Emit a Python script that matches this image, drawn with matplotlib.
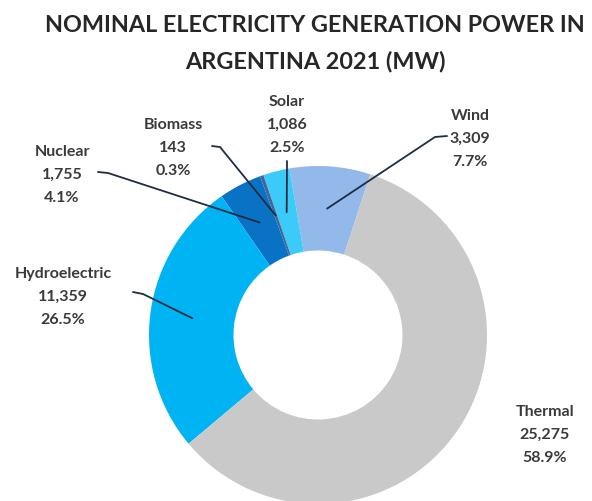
import numpy as np
import matplotlib.pyplot as plt

# data, in the order the slices run counter-clockwise from the top right
sources = ["Wind", "Solar", "Biomass", "Nuclear", "Hydroelectric", "Thermal"]
power_mw = [3309, 1086, 143, 1755, 11359, 25275]
share_pct = ["7.7%", "2.5%", "0.3%", "4.1%", "26.5%", "58.9%"]
colors = ["#92B9EA", "#3CCBF8", "#42659A", "#0A72C4", "#00B3F2", "#C9C9C9"]

W, H = 592, 502
def py(y):
    # pixel row (from top) -> axes y
    return H - y

cx, cy, R = 318, 336, 169
start = 72

# label centres and where their leader lines begin (pixels from top left)
label_pos = {
    "Wind": (470, 139),
    "Solar": (287, 125),
    "Biomass": (173, 148),
    "Nuclear": (62, 175),
    "Hydroelectric": (63, 297),
    "Thermal": (545, 435),
}
leader_start = {
    "Wind": [(447, 137), (435, 138)],
    "Solar": [(287, 162)],
    "Biomass": [(212, 147), (220, 148)],
    "Nuclear": [(98, 173), (108, 174)],
    "Hydroelectric": [(133, 293), (143, 295)],
}

plt.rcParams['font.family'] = ['Lato', 'DejaVu Sans']

fig = plt.figure(figsize=(W / 100, H / 100), dpi=100)
ax = fig.add_axes([0, 0, 1, 1])

ax.pie(power_mw, colors=colors, startangle=start, counterclock=True,
       radius=R, center=(cx, py(cy)),
       wedgeprops=dict(width=R * 0.5, edgecolor='none'))

ax.set_xlim(0, W)
ax.set_ylim(0, H)
ax.set_aspect('equal')
ax.axis('off')

fig.text(0.532, py(25) / H, "NOMINAL ELECTRICITY GENERATION POWER IN",
         ha='center', va='center', fontsize=16.8, fontweight='bold', color='#262626')
fig.text(0.532, py(61) / H, "ARGENTINA 2021 (MW)",
         ha='center', va='center', fontsize=16.8, fontweight='bold', color='#262626')

# mid angle of each wedge, for the inner end of the leader lines
total = sum(power_mw)
cum = np.cumsum([0] + power_mw)
for i, name in enumerate(sources):
    lx, ly = label_pos[name]
    txt = f"{name}\n{power_mw[i]:,}\n{share_pct[i]}"
    ax.text(lx, py(ly), txt, ha='center', va='center', fontsize=11.5,
            fontweight='bold', color='#3A3A3A', linespacing=1.85)
    if name in leader_start:
        mid = np.deg2rad(start + 360 * (cum[i] + cum[i + 1]) / 2 / total)
        ex = cx + 0.75 * R * np.cos(mid)
        ey = py(cy) + 0.75 * R * np.sin(mid)
        xs = [p[0] for p in leader_start[name]] + [ex]
        ys = [py(p[1]) for p in leader_start[name]] + [ey]
        ax.plot(xs, ys, color='#1E2C44', lw=1.3, solid_capstyle='round')

fig.savefig("out.png", dpi=100)
